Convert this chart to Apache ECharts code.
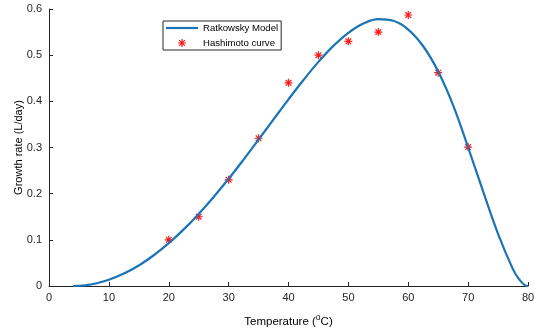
<!DOCTYPE html>
<html>
<head>
<meta charset="utf-8">
<script src="https://cdn.jsdelivr.net/npm/echarts@6/dist/echarts.min.js"></script>
<style>
html,body{margin:0;padding:0;background:#fff;}
#chart{width:534px;height:329px;}
</style>
</head>
<body>
<div id="chart"></div>
<script>
// Ratkowsky model curve
const modelT = [4, 5, 6, 8, 10, 12.5, 15, 17.5, 20, 22.5, 25, 27.5, 30, 32.5, 35, 37.5, 40, 42.5, 45, 47.5, 50, 52.5, 55, 57.5, 60, 62.5, 65, 67.5, 70, 72.5, 75, 77.5, 78.5, 79.5, 80];
const modelR = [0, 0.0004, 0.0015, 0.006, 0.0135, 0.027, 0.0445, 0.0666, 0.0927, 0.1226, 0.1562, 0.1929, 0.2322, 0.2739, 0.3171, 0.3608, 0.4043, 0.4462, 0.4855, 0.5201, 0.5485, 0.5684, 0.578, 0.5744, 0.5555, 0.5193, 0.4647, 0.3914, 0.30, 0.205, 0.113, 0.036, 0.015, 0.0015, 0];
// Hashimoto curve points
const hashT = [20, 25, 30, 35, 40, 45, 50, 55, 60, 65, 70];
const hashR = [0.10, 0.15, 0.23, 0.32, 0.44, 0.50, 0.53, 0.55, 0.587, 0.462, 0.301];
// axis ticks
const xTicks = [0, 10, 20, 30, 40, 50, 60, 70, 80];
const yTicks = [0, 0.1, 0.2, 0.3, 0.4, 0.5, 0.6];

const asterisk = 'path://M-1,-0.15L1,-0.15L1,0.15L-1,0.15Z' +
  'M-0.15,-1L0.15,-1L0.15,1L-0.15,1Z' +
  'M-0.601,-0.813L0.813,0.601L0.601,0.813L-0.813,-0.601Z' +
  'M-0.813,0.601L0.601,-0.813L0.813,-0.601L-0.601,0.813Z';

const axisColor = '#262626';
const lineColor = '#1a74b6';
const starColor = '#FF1A1A';
const fontFam = '"Liberation Sans", Arial, Helvetica, sans-serif';

const chart = echarts.init(document.getElementById('chart'), null, {renderer: 'canvas'});
chart.setOption({
  animation: false,
  backgroundColor: '#fff',
  grid: {left: 49, right: 6, top: 9, bottom: 43, containLabel: false, outerBoundsMode: 'none'},
  legend: {
    orient: 'vertical',
    left: 163, top: 21,
    borderColor: axisColor, borderWidth: 1,
    padding: [2, 3, 2, 3],
    itemGap: 5,
    itemWidth: 32, itemHeight: 8,
    textStyle: {fontFamily: fontFam, fontSize: 9.6, color: '#000'},
    data: [
      {name: 'Ratkowsky Model', icon: 'path://M0,0L32,0L32,2.2L0,2.2Z'},
      {name: 'Hashimoto curve', icon: asterisk}
    ]
  },
  xAxis: {
    type: 'value', min: xTicks[0], max: xTicks[xTicks.length-1], interval: 10,
    name: 'Temperature ({s|o}C)',
    nameLocation: 'middle', nameGap: 27, nameMoveOverlap: false,
    nameTextStyle: {fontFamily: fontFam, fontSize: 11.5, color: '#000',
      rich: {s: {fontSize: 8.5, verticalAlign: 'top', padding: [0,0,8,0], fontFamily: fontFam, color: '#000'}}},
    axisLine: {show: true, lineStyle: {color: axisColor, width: 1}},
    axisTick: {show: true, inside: true, length: 4, lineStyle: {color: axisColor}},
    axisLabel: {fontFamily: fontFam, fontSize: 11, color: axisColor, margin: 6},
    splitLine: {show: false}
  },
  yAxis: {
    type: 'value', min: yTicks[0], max: yTicks[yTicks.length-1], interval: 0.1,
    name: 'Growth rate (L/day)',
    nameLocation: 'middle', nameGap: 25, nameRotate: 90, nameMoveOverlap: false,
    nameTextStyle: {fontFamily: fontFam, fontSize: 11, color: '#000'},
    axisLine: {show: true, lineStyle: {color: axisColor, width: 1}},
    axisTick: {show: true, inside: true, length: 4, lineStyle: {color: axisColor}},
    axisLabel: {fontFamily: fontFam, fontSize: 11, color: axisColor, margin: 7,
      formatter: v => (Math.round(v*10)/10).toString()},
    splitLine: {show: false}
  },
  series: [
    {
      name: 'Ratkowsky Model', type: 'line', smooth: 0.4,
      data: modelT.map((t, i) => [t, modelR[i]]),
      showSymbol: false, symbol: 'none',
      lineStyle: {color: lineColor, width: 2.2},
      itemStyle: {color: lineColor}
    },
    {
      name: 'Hashimoto curve', type: 'scatter',
      data: hashT.map((t, i) => [t, hashR[i]]),
      symbol: asterisk, symbolSize: 8,
      itemStyle: {color: starColor, opacity: 1}
    }
  ]
});
</script>
</body>
</html>
